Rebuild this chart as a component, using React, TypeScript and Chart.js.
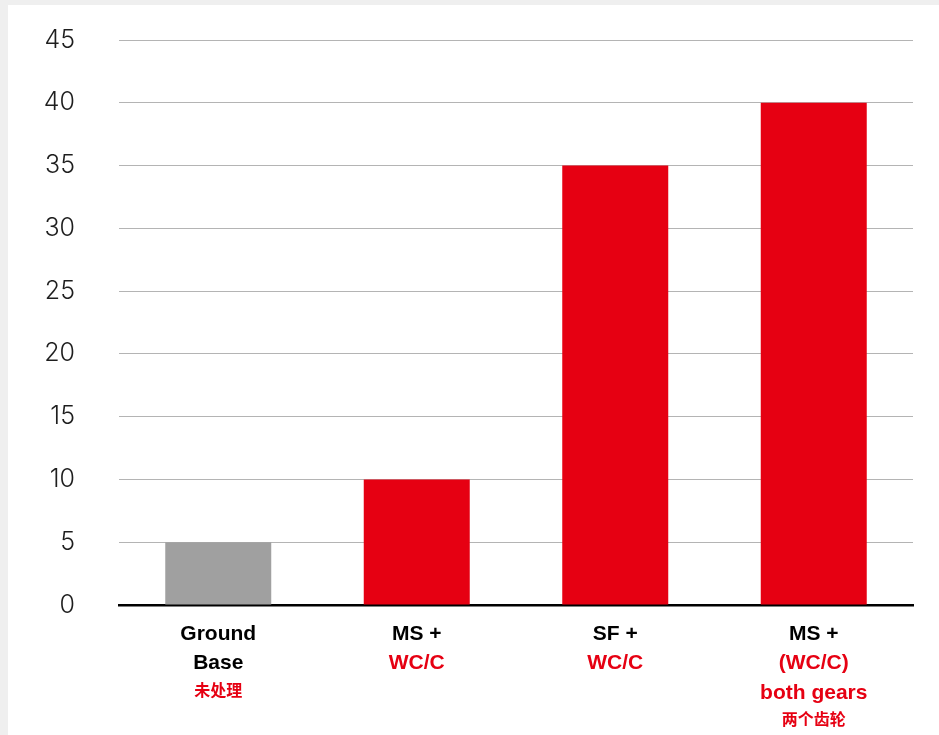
import React, { useEffect, useRef } from "react";
import { Chart, registerables } from "chart.js";

Chart.register(...registerables);

const categoryLines: string[][] = [
  ["Ground", "Base", "未处理"],
  ["MS +", "WC/C"],
  ["SF +", "WC/C"],
  ["MS +", "(WC/C)", "both gears", "两个齿轮"],
];
const categoryLineKinds: string[][] = [
  ["main", "main", "cn"],
  ["main", "accent"],
  ["main", "accent"],
  ["main", "accent", "accent", "cn"],
];
const values = [5, 10, 35, 40];
const barKinds = ["base", "treated", "treated", "treated"];
const yMax = 45;
const yStep = 5;

const RED = "#e60012";
const GRAY = "#a0a0a0";

const kindStyle: Record<string, { color: string; font: string; gap: number }> = {
  main: { color: "#000000", font: "bold 21px 'Liberation Sans', Arial, sans-serif", gap: 29.5 },
  accent: { color: RED, font: "bold 21px 'Liberation Sans', Arial, sans-serif", gap: 29.5 },
  cn: { color: RED, font: "bold 16px 'Noto Sans CJK SC', sans-serif", gap: 26 },
};

const labelPlugin = {
  id: "multiColorLabels",
  afterDraw(chart: any) {
    const ctx = chart.ctx;
    const xs = chart.scales.x;
    const bottom = chart.chartArea.bottom;
    ctx.save();
    ctx.textAlign = "center";
    ctx.textBaseline = "middle";
    categoryLines.forEach((lines, i) => {
      const x = xs.getPixelForValue(i);
      let y = bottom + 29;
      lines.forEach((t, j) => {
        const st = kindStyle[categoryLineKinds[i][j]];
        if (j > 0) y += st.gap;
        ctx.font = st.font;
        ctx.fillStyle = st.color;
        ctx.fillText(t, x, y);
      });
    });
    ctx.restore();
  },
};

export default function App() {
  const ref = useRef<HTMLCanvasElement>(null);
  useEffect(() => {
    if (!ref.current) return;
    const chart = new Chart(ref.current, {
      type: "bar",
      data: {
        labels: categoryLines.map((l) => l.join(" ")),
        datasets: [
          {
            data: values,
            backgroundColor: barKinds.map((k) => (k === "base" ? GRAY : RED)),
            barPercentage: 0.534,
            categoryPercentage: 1,
          },
        ],
      },
      options: {
        animation: false,
        responsive: false,
        maintainAspectRatio: false,
        layout: { padding: { top: 35, right: 26, bottom: 130, left: 0 } },
        plugins: { legend: { display: false }, tooltip: { enabled: false } },
        scales: {
          x: {
            ticks: { display: false },
            grid: { display: false, drawTicks: false },
            border: { display: true, color: "#000000", width: 2.5 },
            afterFit(scale: any) {
              scale.paddingLeft = 0;
              scale.paddingRight = 0;
            },
          },
          y: {
            min: 0,
            max: yMax,
            ticks: {
              stepSize: yStep,
              padding: 44,
              color: "#1e1e1e",
              font: { family: "Inter, 'Open Sans', sans-serif", size: 25, weight: "300" as any },
            },
            grid: { color: "#b4b4b4", lineWidth: 1, drawTicks: false },
            border: { display: false },
            afterFit(scale: any) {
              scale.width = 111;
              scale.paddingTop = 0;
              scale.paddingBottom = 0;
            },
          },
        },
      },
      plugins: [labelPlugin],
    });
    return () => chart.destroy();
  }, []);
  return (
    <div style={{ position: "fixed", inset: 0, background: "#efefef" }}>
      <div style={{ position: "absolute", left: 8, top: 5, width: 931, height: 730, background: "#ffffff" }}>
        <canvas ref={ref} width={931} height={730} style={{ display: "block", width: 931, height: 730 }} />
      </div>
    </div>
  );
}
